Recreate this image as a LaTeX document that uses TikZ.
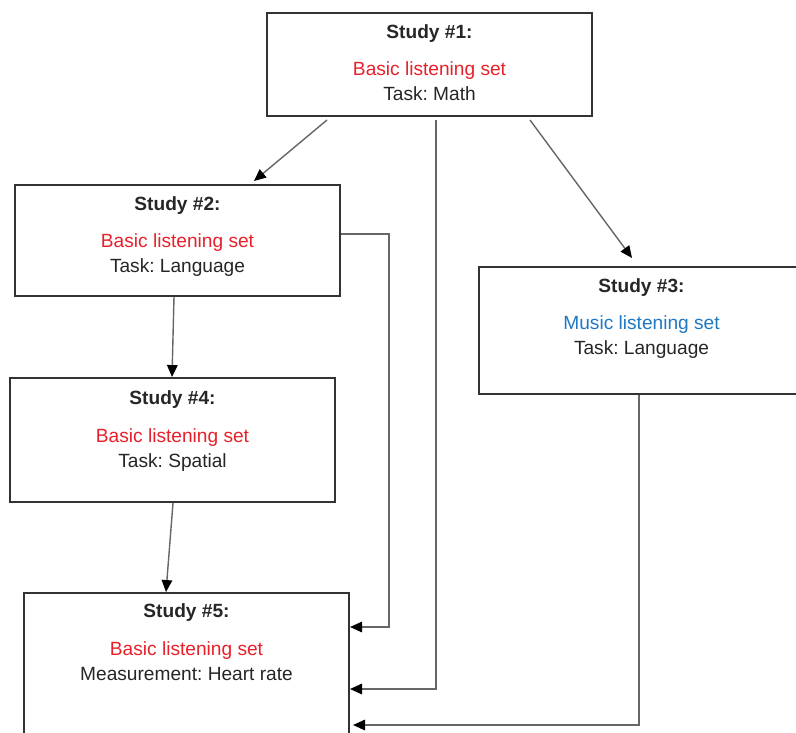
\documentclass[tikz,border=0pt]{standalone}
\usepackage{fontspec}
\setmainfont{Liberation Sans}
\usepackage{xcolor}
\definecolor{setred}{HTML}{E8202A}
\definecolor{setblue}{HTML}{1F78C4}
\definecolor{boxline}{HTML}{333333}
\definecolor{connline}{HTML}{666666}
\usetikzlibrary{positioning,calc,arrows.meta}
\frenchspacing

\begin{document}
\begin{tikzpicture}[x=0.025cm, y=-0.025cm,
  study/.style={draw=boxline, line width=1.4pt, fill=white, anchor=north west, minimum width=8.125cm, inner sep=0pt},
  studytext/.style={anchor=north, inner sep=0pt, align=center, text=black!85, font=\fontsize{13.6}{17.8}\selectfont},
  conn/.style={draw=connline, line width=1pt, -{Triangle[length=8.5pt, width=7.5pt, black]}}]
  \useasboundingbox (0,0) rectangle (796,732);
  \clip (0,0) rectangle (796,732);
  % boxes
  \node[study, minimum height=2.575cm] (s1) at (266,12) {};
  \node[study, minimum height=2.775cm] (s2) at (14,184) {};
  \node[study, minimum height=3.175cm] (s3) at (478,266) {};
  \node[study, minimum height=3.1cm] (s4) at (9,377) {};
  \node[study, minimum height=4cm] (s5) at (23,592) {};
  % texts
  \node[studytext, below=8.5pt of s1.north] (t1) {\textbf{Study \#1:}\\[9pt]\textcolor{setred}{Basic listening set}\\Task: Math};
  \node[studytext, below=8.5pt of s2.north] (t2) {\textbf{Study \#2:}\\[9pt]\textcolor{setred}{Basic listening set}\\Task: Language};
  \node[studytext, below=8.5pt of s3.north] (t3) {\textbf{Study \#3:}\\[9pt]\textcolor{setblue}{Music listening set}\\Task: Language};
  \node[studytext, below=9.5pt of s4.north] (t4) {\textbf{Study \#4:}\\[9pt]\textcolor{setred}{Basic listening set}\\Task: Spatial};
  \node[studytext, below=8pt of s5.north] (t5) {\textbf{Study \#5:}\\[9pt]\textcolor{setred}{Basic listening set}\\Measurement: Heart rate};
  % connectors
  \draw[conn] ($(s1.south west)+(61,3)$) -- ($(s2.north west)+(240,-3)$);
  \draw[conn] ($(s1.south west)+(264,3)$) -- ($(s3.north west)+(154,-8)$);
  \draw[conn] ($(s1.south west)+(170,3)$) |- ($(s5.north east)+(0,97)$);
  \draw[conn] ($(s2.north east)+(0,50)$) -- ++(48,0) |- ($(s5.north east)+(0,35)$);
  \draw[conn] ($(s3.south west)+(161,0)$) |- ($(s5.north east)+(3,133)$);
  \draw[conn] ($(s2.south west)+(160,0)$) -- ($(s4.north west)+(163,0)$);
  \draw[conn] ($(s4.south west)+(164,0)$) -- ($(s5.north west)+(143,0)$);
\end{tikzpicture}
\end{document}
